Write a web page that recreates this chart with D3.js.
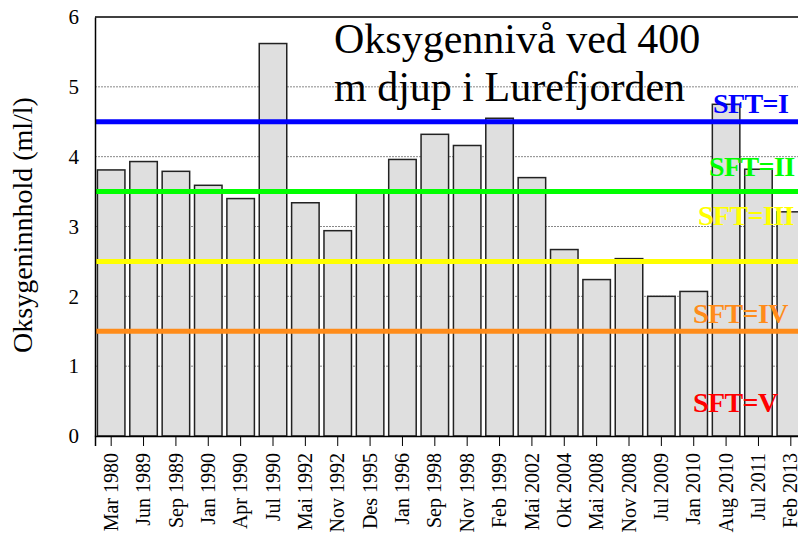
<!DOCTYPE html>
<html>
<head>
<meta charset="utf-8">
<script src="https://cdn.jsdelivr.net/npm/d3@7"></script>
<style>
  body { margin: 0; background: #fff; }
</style>
</head>
<body>
<svg id="chart" width="798" height="535"></svg>
<script>
// data
var dates = ["Mar 1980", "Jun 1989", "Sep 1989", "Jan 1990", "Apr 1990", "Jul 1990", "Mai 1992", "Nov 1992",
             "Des 1995", "Jan 1996", "Sep 1998", "Nov 1998", "Feb 1999", "Mai 2002", "Okt 2004", "Mai 2008",
             "Nov 2008", "Jul 2009", "Jan 2010", "Aug 2010", "Jul 2011", "Feb 2013"];
var oxygen = [3.81, 3.93, 3.79, 3.59, 3.40, 5.62, 3.34, 2.94,
              3.52, 3.96, 4.32, 4.16, 4.55, 3.70, 2.67, 2.24,
              2.54, 2.00, 2.07, 4.75, 3.82, 3.21];
var yTicks = [0, 1, 2, 3, 4, 5, 6];
var sftNames = ["SFT=I", "SFT=II", "SFT=III", "SFT=IV", "SFT=V"];
var sftLimits = [4.5, 3.5, 2.5, 1.5, null];
var sftColors = ["#0000ff", "#00ff00", "#ffff00", "#ff8c1a", "#ff0000"];

var serif = "'Liberation Serif', Tinos, 'Times New Roman', Times, serif";

var svg = d3.select("#chart").style("font-family", serif),
    margin = {top: 17, right: -9, bottom: 99, left: 95},
    width = +svg.attr("width") - margin.left - margin.right,
    height = +svg.attr("height") - margin.top - margin.bottom,
    g = svg.append("g").attr("transform", "translate(" + margin.left + "," + margin.top + ")");

var x = d3.scaleBand()
    .domain(dates)
    .range([0, width])
    .paddingInner(0.15)
    .paddingOuter(0.075);

var y = d3.scaleLinear()
    .domain([0, 6])
    .range([height, 0]);

// grid
g.append("g")
  .selectAll("line")
  .data(yTicks.slice(1, -1))
  .enter().append("line")
    .attr("x1", 0)
    .attr("x2", width)
    .attr("y1", function(d) { return y(d); })
    .attr("y2", function(d) { return y(d); })
    .attr("stroke", "#888")
    .attr("stroke-width", 1)
    .attr("stroke-dasharray", "2,1");

// bars
g.append("g")
  .selectAll("rect")
  .data(oxygen)
  .enter().append("rect")
    .attr("x", function(d, i) { return x(dates[i]); })
    .attr("y", function(d) { return y(d); })
    .attr("width", x.bandwidth())
    .attr("height", function(d) { return height - y(d); })
    .attr("fill", "#dfdfdf")
    .attr("stroke", "#222")
    .attr("stroke-width", 1.5);

// frame top
g.append("line")
    .attr("x1", 0).attr("x2", width)
    .attr("y1", 0).attr("y2", 0)
    .attr("stroke", "#000").attr("stroke-width", 1.5);

// class limit lines
g.append("g")
  .selectAll("line")
  .data(sftLimits.filter(function(d) { return d !== null; }))
  .enter().append("line")
    .attr("x1", 0)
    .attr("x2", width)
    .attr("y1", function(d) { return y(d); })
    .attr("y2", function(d) { return y(d); })
    .attr("stroke", function(d, i) { return sftColors[i]; })
    .attr("stroke-width", 5);

// class labels
var labelPos = [[618, 113], [614, 176], [603, 225], [598, 323], [598, 412]];
g.append("g")
  .selectAll("text")
  .data(sftNames)
  .enter().append("text")
    .attr("x", function(d, i) { return labelPos[i][0]; })
    .attr("y", function(d, i) { return labelPos[i][1] - margin.top; })
    .attr("fill", function(d, i) { return sftColors[i]; })
    .style("font-family", serif)
    .style("font-size", "28px")
    .style("font-weight", "bold")
    .style("letter-spacing", "-0.6px")
    .text(function(d) { return d; });

// axes
var xAxis = g.append("g")
    .call(d3.axisBottom(x).tickSizeOuter(0).tickSize(10).tickPadding(4))
    .attr("transform", "translate(0," + height + ")");
xAxis.attr("font-family", serif);
xAxis.select(".domain").attr("stroke", "#000").attr("stroke-width", 1.5);
xAxis.selectAll(".tick line").attr("stroke", "#000");
xAxis.selectAll("text")
    .attr("fill", "#000")
    .style("font-family", serif)
    .style("font-size", "20px")
    .attr("text-anchor", "end")
    .attr("transform", "rotate(-90)")
    .attr("x", -17)
    .attr("y", 0)
    .attr("dy", "0.33em");

var yAxis = g.append("g")
    .call(d3.axisLeft(y).tickValues(yTicks).tickFormat(d3.format("d")).tickSize(0).tickPadding(16));
yAxis.attr("font-family", serif);
yAxis.select(".domain").attr("stroke", "#000").attr("stroke-width", 1.5);
yAxis.selectAll("text")
    .attr("fill", "#000")
    .style("font-family", serif)
    .style("font-size", "21px");

// y title
svg.append("text")
    .attr("transform", "translate(32,225) rotate(-90)")
    .attr("text-anchor", "middle")
    .style("font-family", serif)
    .style("font-size", "28px")
    .text("Oksygeninnhold (ml/l)");

// chart title
var title = svg.append("text")
    .style("font-family", serif)
    .style("font-size", "42px");
title.append("tspan").attr("x", 334).attr("y", 53).text("Oksygennivå ved 400");
title.append("tspan").attr("x", 334).attr("y", 101).text("m djup i Lurefjorden");
</script>
</body>
</html>
